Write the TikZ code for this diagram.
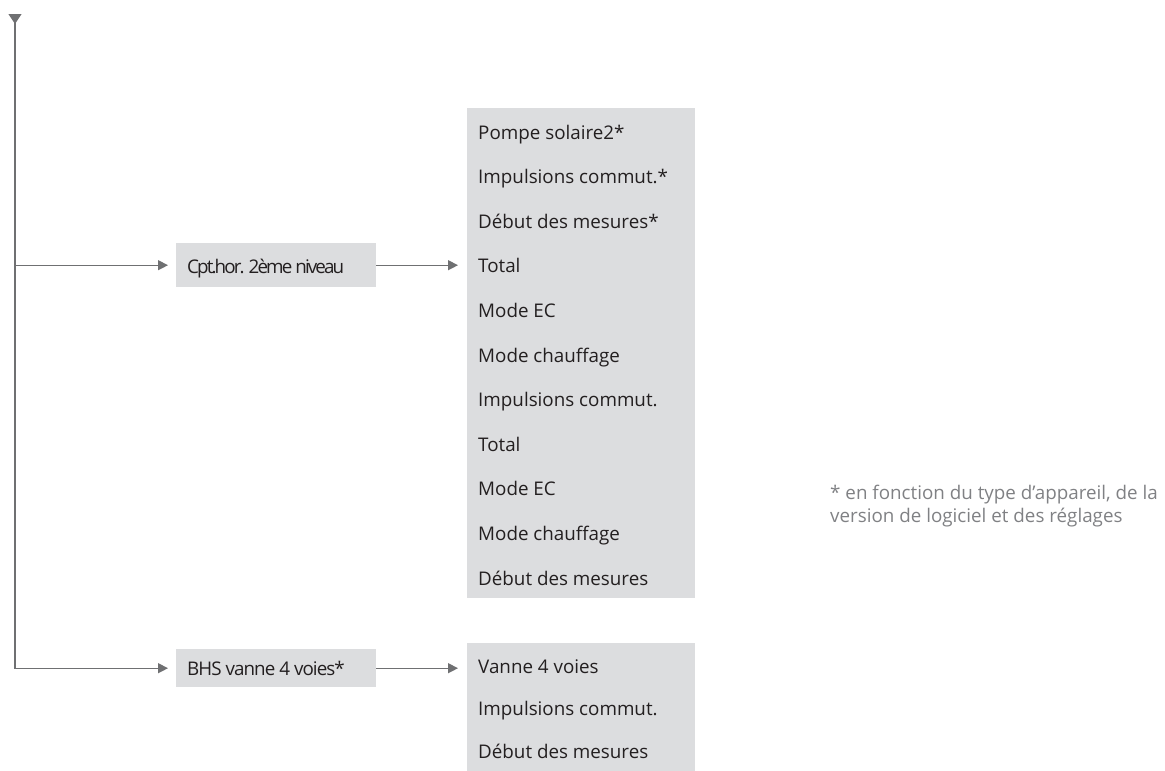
\documentclass[tikz,border=0pt]{standalone}
\usepackage{fontspec}
\setmainfont{Open Sans}
\usepackage{tikz}
\usetikzlibrary{positioning,arrows.meta}
\definecolor{linegray}{HTML}{6F7072}
\definecolor{boxgray}{HTML}{DCDDDF}
\definecolor{textdark}{HTML}{231F20}
\definecolor{notegray}{HTML}{808184}

\begin{document}
\begin{tikzpicture}[
    x=1pt, y=-1pt,
    menubox/.style={rectangle, fill=boxgray, minimum width=200pt, inner sep=0pt},
    listbox/.style={menubox, minimum width=228pt, anchor=north west},
    item/.style={anchor=base west, inner sep=0pt, text=textdark, font=\fontsize{18.8}{22}\selectfont},
    arrow/.style={-{Triangle[length=10pt,width=10pt]}, line width=1.3pt, draw=linegray, color=linegray}
]
    \useasboundingbox (0,0) rectangle (1165,771);

    % first level
    \node[menubox, minimum height=44pt, anchor=north west] (cpt) at (176,243) {};
    \node[item] (cpttxt) at (187,273) {\addfontfeatures{LetterSpace=-10}Cpt.hor. 2ème niveau};
    \node[menubox, minimum height=38pt, anchor=north west] (bhs) at (176,649) {};
    \node[item] (bhstxt) at (187,675) {\addfontfeatures{LetterSpace=-5}BHS vanne 4 voies*};

    % second level
    \node[listbox, minimum height=490pt] (list1) at (467,108) {};
    \foreach \txt [count=\i] in {Pompe solaire2*, Impulsions commut.*, Début des mesures*,
        Total, Mode EC, Mode chauffage, Impulsions commut., Total, Mode EC,
        Mode chauffage, Début des mesures}
        \node[item] (a\i) at (478,{139+(\i-1)*44.6}) {\txt};

    \node[listbox, minimum height=128pt] (list2) at (467,643) {};
    \foreach \txt [count=\i] in {Vanne 4 voies, Impulsions commut., Début des mesures}
        \node[item] (b\i) at (478,{673+(\i-1)*42.5}) {\txt};

    % trunk and branches
    \coordinate (top) at (15,14);
    \draw[arrow, {Triangle[reversed,length=10pt,width=13pt]}-{Triangle[length=10pt,width=10pt]}, shorten >=8pt]
        (top) |- (bhs.west);
    \draw[arrow, shorten >=8pt] (top |- cpt.west) -- (cpt.west);
    \draw[arrow, shorten >=9pt] (cpt.east) -- (cpt.east -| list1.west);
    \draw[arrow, shorten >=9pt] (bhs.east) -- (bhs.east -| list2.west);

    % note
    \node[anchor=base west, inner sep=0pt, text=notegray, align=left,
          font=\fontsize{18.8}{23}\selectfont] (note) at (830,522)
        {* en fonction du type d'appareil, de la\\version de logiciel et des réglages};
\end{tikzpicture}
\end{document}
